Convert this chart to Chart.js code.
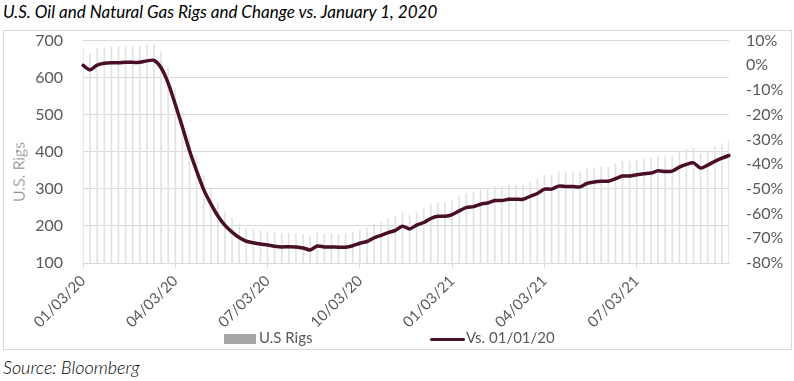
<!DOCTYPE html>
<html>
<head>
<meta charset="utf-8">
<script src="https://cdn.jsdelivr.net/npm/chart.js@4.4.1/dist/chart.umd.min.js"></script>
<style>
  html, body { margin:0; padding:0; background:#fff; }
  body { width:794px; height:381px; position:relative; overflow:hidden; font-family:Lato, "Open Sans", sans-serif; }
  #title { position:absolute; left:3px; top:1px; font-style:italic; font-size:17px; color:#000; white-space:nowrap; }
  #box { position:absolute; left:3px; top:30px; width:787px; height:318px; border:1px solid #d9d9d9; }
  #c { display:block; }
  #ytitle { position:absolute; left:18px; top:172px; transform:translate(-50%,-50%) rotate(-90deg); font-size:16px; font-weight:300; color:#595959; white-space:nowrap; }
  #legend { position:absolute; top:327px; left:0; width:794px; height:20px; font-size:15px; color:#595959; }
  .lg { position:absolute; top:0; white-space:nowrap; line-height:20px; }
  .sw { display:inline-block; vertical-align:middle; margin-right:3px; }
  #source { position:absolute; left:3px; top:356px; font-style:italic; font-size:18px; font-weight:300; color:#000; white-space:nowrap; }
</style>
</head>
<body>
<div id="title">U.S. Oil and Natural Gas Rigs and Change vs. January 1, 2020</div>
<div id="box"><canvas id="c" width="787" height="318" style="width:787px;height:318px"></canvas></div>
<div id="ytitle">U.S. Rigs</div>
<div id="legend"></div>
<div id="source">Source: Bloomberg</div>
<script>
// Weekly dates (categories)
const weeks = [
 "01/03/20","01/10/20","01/17/20","01/24/20","01/31/20","02/07/20","02/14/20","02/21/20","02/28/20",
 "03/06/20","03/13/20","03/20/20","03/27/20","04/03/20","04/10/20","04/17/20","04/24/20",
 "05/01/20","05/08/20","05/15/20","05/22/20","05/29/20","06/05/20","06/12/20","06/19/20","06/26/20",
 "07/03/20","07/10/20","07/17/20","07/24/20","07/31/20","08/07/20","08/14/20","08/21/20","08/28/20",
 "09/04/20","09/11/20","09/18/20","09/25/20","10/02/20","10/09/20","10/16/20","10/23/20","10/30/20",
 "11/06/20","11/13/20","11/20/20","11/27/20","12/04/20","12/11/20","12/18/20","12/25/20",
 "01/01/21","01/08/21","01/15/21","01/22/21","01/29/21","02/05/21","02/12/21","02/19/21","02/26/21",
 "03/05/21","03/12/21","03/19/21","03/26/21","04/02/21","04/09/21","04/16/21","04/23/21","04/30/21",
 "05/07/21","05/14/21","05/21/21","05/28/21","06/04/21","06/11/21","06/18/21","06/25/21",
 "07/02/21","07/09/21","07/16/21","07/23/21","07/30/21","08/06/21","08/13/21","08/20/21","08/27/21",
 "09/03/21","09/10/21","09/17/21","09/24/21","10/01/21"
];

// U.S. rig count (bars, left axis)
const usRigs = [
 677,665,678,682,684,684,685,685,685,689,691,670,628,570,508,443,388,336,298,264,
 238,220,205,195,191,188,185,181,179,180,179,177,171,182,179,179,179,179,183,190,
 194,204,211,219,225,236,229,239,246,257,263,263,268,278,287,290,297,300,307,307,
 310,310,310,318,326,338,338,346,345,345,344,353,357,359,359,366,374,374,377,380,
 382,388,386,387,398,406,410,395,403,414,422,430
];

// Change vs. 01/01/20 in % (line, right axis)
const vsJan1 = [
 0.0,-1.8,0.1,0.8,1.0,1.0,1.2,1.2,1.2,1.8,2.0,-1.0,-7.2,-15.8,-25.0,-34.5,-42.7,-50.3,-56.0,-61.0,
 -64.8,-67.5,-69.7,-71.2,-71.8,-72.3,-72.7,-73.2,-73.5,-73.4,-73.5,-73.9,-74.7,-73.1,-73.5,-73.5,-73.6,-73.6,-73.0,-72.0,
 -71.3,-69.8,-68.8,-67.7,-66.8,-65.1,-66.2,-64.7,-63.6,-62.0,-61.1,-61.1,-60.4,-58.9,-57.6,-57.2,-56.2,-55.7,-54.7,-54.7,
 -54.2,-54.2,-54.2,-53.0,-51.9,-50.1,-50.1,-48.9,-49.0,-49.0,-49.2,-47.8,-47.2,-46.9,-46.9,-45.9,-44.8,-44.8,-44.3,-43.9,
 -43.6,-42.7,-43.0,-42.8,-41.2,-40.1,-39.5,-41.6,-40.4,-38.9,-37.6,-36.5
];

// X-axis tick labels and the week index where each sits
const tickLabels = ["01/03/20","04/03/20","07/03/20","10/03/20","01/03/21","04/03/21","07/03/21"];
const tickWeekIndex = [0,13,26,39,52,65,78];

const seriesNames = ["U.S Rigs","Vs. 01/01/20"];
const barColor = "#e2e2e2";
const barLegendColor = "#a6a6a6";
const lineColor = "#4a0f28";
const textColor = "#595959";
const gridColor = "#d9d9d9";
const FONT = "Lato";

const chart = new Chart(document.getElementById('c'), {
  type: 'bar',
  data: {
    labels: weeks,
    datasets: [
      {
        type: 'line',
        label: seriesNames[1],
        data: vsJan1,
        yAxisID: 'yR',
        borderColor: lineColor,
        backgroundColor: lineColor,
        borderWidth: 3.5,
        pointRadius: 0,
        tension: 0.25,
        borderCapStyle: 'round',
        borderJoinStyle: 'round',
        order: 0
      },
      {
        type: 'bar',
        label: seriesNames[0],
        data: usRigs,
        yAxisID: 'yL',
        backgroundColor: barColor,
        barThickness: 1,
        order: 1
      }
    ]
  },
  options: {
    responsive: false,
    animation: false,
    layout: { padding: { top: 9, left: 0, right: 0, bottom: 0 } },
    plugins: { legend: { display: false }, tooltip: { enabled: false } },
    scales: {
      x: {
        type: 'category',
        offset: false,
        grid: { display: true, drawOnChartArea: false, drawTicks: true, tickLength: 5, color: gridColor, offset: false },
        border: { display: true, color: gridColor },
        ticks: {
          autoSkip: false, maxRotation: 45, minRotation: 45, padding: 4,
          color: textColor, font: { family: FONT, size: 15 },
          callback: function(v, i) {
            const k = tickWeekIndex.indexOf(i);
            return k >= 0 ? tickLabels[k] : null;
          }
        },
        afterFit: function(s) { s.height = 86; }
      },
      yL: {
        position: 'left', min: 100, max: 700,
        ticks: { stepSize: 100, padding: 0, color: textColor, font: { family: FONT, size: 16 } },
        grid: { color: gridColor, drawTicks: true, tickLength: 20, tickColor: 'rgba(0,0,0,0)' },
        border: { display: false },
        afterFit: function(s) { s.width = 79; }
      },
      yR: {
        position: 'right', min: -80, max: 10,
        ticks: { stepSize: 10, padding: 0, color: textColor, font: { family: FONT, size: 16 },
                 callback: function(v) { return v + '%'; } },
        grid: { display: true, drawOnChartArea: false, drawTicks: true, tickLength: 17, tickColor: 'rgba(0,0,0,0)' },
        border: { display: false },
        afterFit: function(s) { s.width = 62; }
      }
    }
  }
});

// HTML legend built from the datasets
const legend = document.getElementById('legend');
const items = [
  { label: seriesNames[0], left: 224, swatch: '<span class="sw" style="width:32px;height:10px;background:' + barLegendColor + '"></span>' },
  { label: seriesNames[1], left: 430, swatch: '<span class="sw" style="width:35px;height:3px;background:' + lineColor + ';border-radius:2px;margin-right:1px"></span>' }
];
items.forEach(function(it) {
  const d = document.createElement('div');
  d.className = 'lg';
  d.style.left = it.left + 'px';
  d.innerHTML = it.swatch + '<span>' + it.label + '</span>';
  legend.appendChild(d);
});
</script>
</body>
</html>
